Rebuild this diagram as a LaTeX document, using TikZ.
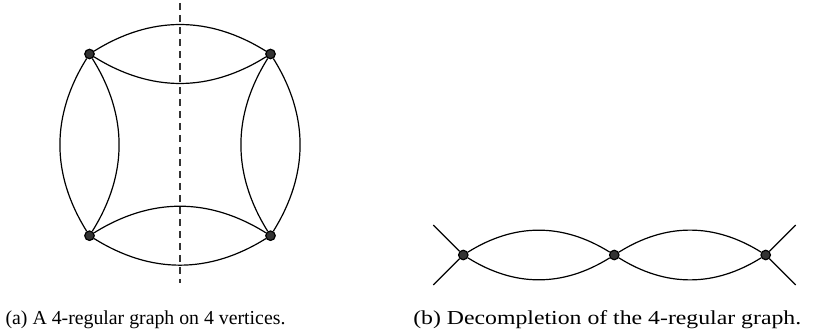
\documentclass[tikz,border=0pt]{standalone}
\usepackage{fontspec}
\setmainfont{Liberation Serif}
\usepackage{tikz}
\usetikzlibrary{calc}

\tikzset{
    vtx/.style={circle, draw=black, fill=black!80, inner sep=0pt, minimum size=9.5pt},
    caption/.style={anchor=base west, inner sep=0pt, font=\fontsize{19.8}{24}\selectfont}
}

\begin{document}
\begin{tikzpicture}[x=1pt, y=1pt, line width=1.2pt]
    \useasboundingbox (0,0) rectangle (820,335);

    % =========================================================================
    % SUBFIGURE A: 4-regular graph on 4 vertices
    % =========================================================================
    \begin{scope}[shift={(0,0)}]
        % --- Cut line ---
        \coordinate (cut-top) at (180, 332);
        \coordinate (cut-bot) at (180, 52);
        \draw[dashed, dash pattern=on 7pt off 5pt, black!80] (cut-top) -- (cut-bot);

        % --- Vertices ---
        \node[vtx] (tl) at (89.5, 281) {};
        \node[vtx] (tr) at (270.5, 281) {};
        \node[vtx] (bl) at (89.5, 99.3) {};
        \node[vtx] (br) at (270.5, 99.3) {};

        % --- Double edges ---
        \draw (tl) to[bend left=32] (tr);
        \draw (tl) to[bend right=32] (tr);
        \draw (bl) to[bend left=32] (br);
        \draw (bl) to[bend right=32] (br);
        \draw (tl) to[bend left=32] (bl);
        \draw (tl) to[bend right=32] (bl);
        \draw (tr) to[bend left=32] (br);
        \draw (tr) to[bend right=32] (br);

        \node[caption] (cap-a) at (5, 10.5) {(a) A 4-regular graph on 4 vertices.};
    \end{scope}

    % =========================================================================
    % SUBFIGURE B: Decompletion
    % =========================================================================
    \begin{scope}[shift={(0,0)}]
        % --- Vertices ---
        \node[vtx] (u1) at (463.3, 80) {};
        \node[vtx] (u2) at (614.3, 80) {};
        \node[vtx] (u3) at (765.7, 80) {};

        % --- Free ends ---
        \coordinate (e1) at (433.3, 110);
        \coordinate (e2) at (433.3, 50);
        \coordinate (e3) at (795.7, 110);
        \coordinate (e4) at (795.7, 50);
        \draw (e1) -- (u1) -- (e2);
        \draw (e3) -- (u3) -- (e4);

        % --- Double edges ---
        \draw (u1) to[bend left=32] (u2);
        \draw (u1) to[bend right=32] (u2);
        \draw (u2) to[bend left=32] (u3);
        \draw (u2) to[bend right=32] (u3);

        \node[caption] (cap-b) at (412.7, 10.5) {\scalebox{1.2}[1]{(b) Decompletion of the 4-regular graph.}};
    \end{scope}

\end{tikzpicture}
\end{document}
